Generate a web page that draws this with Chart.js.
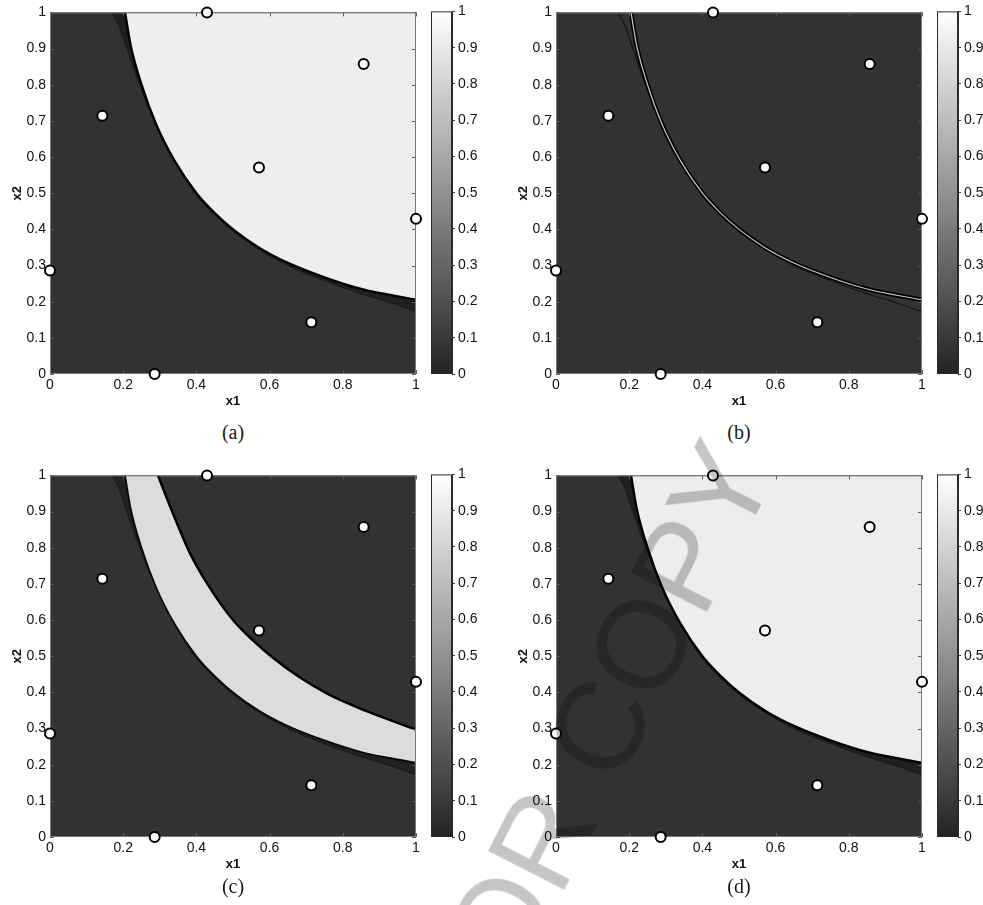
<!DOCTYPE html>
<html lang="en">
<head>
<meta charset="utf-8">
<title>Classification panels (a)-(d)</title>
<script src="https://cdn.jsdelivr.net/npm/chart.js@4.4.1/dist/chart.umd.min.js"></script>
<style>
  html, body { margin: 0; padding: 0; background: #fff; overflow: hidden; }
  body { width: 983px; height: 905px; position: relative; }
  canvas { position: absolute; }
  .cap { position: absolute; transform: translate(-50%, -50%); font-family: "Liberation Serif", "Times New Roman", serif; font-size: 20px; color: #1a1a1a; }
  #wm { position: absolute; left: 658px; top: 610px; width: 0; height: 0; transform: rotate(-63deg);
        mix-blend-mode: multiply; color: #c6c6c6; font-family: "Liberation Sans", Arial, sans-serif;
        font-size: 125px; line-height: 1; pointer-events: none; }
  #wm span { position: absolute; top: 0; white-space: nowrap; }
</style>
</head>
<body>
  <canvas id="plotA" width="425" height="420" style="left:0px;top:0px"></canvas>
  <canvas id="barA" width="48" height="390" style="left:431px;top:0px"></canvas>
  <canvas id="plotB" width="425" height="420" style="left:506px;top:0px"></canvas>
  <canvas id="barB" width="48" height="390" style="left:937px;top:0px"></canvas>
  <canvas id="plotC" width="425" height="420" style="left:0px;top:463px"></canvas>
  <canvas id="barC" width="48" height="390" style="left:431px;top:463px"></canvas>
  <canvas id="plotD" width="425" height="420" style="left:506px;top:463px"></canvas>
  <canvas id="barD" width="48" height="390" style="left:937px;top:463px"></canvas>

  <div class="cap" style="left:233px;top:432px">(a)</div>
  <div class="cap" style="left:739px;top:432px">(b)</div>
  <div class="cap" style="left:233px;top:886px">(c)</div>
  <div class="cap" style="left:739px;top:886px">(d)</div>

  <div id="wm">
    <span style="left:0;transform:translate(-50%,-50%)">COPY</span>
    <span style="right:177px;transform:translateY(-50%)">AUTHOR&nbsp;</span>
  </div>

<script>
// axis ticks
const xTicks = [0, 0.2, 0.4, 0.6, 0.8, 1];
const yTicks = [0, 0.1, 0.2, 0.3, 0.4, 0.5, 0.6, 0.7, 0.8, 0.9, 1];
const cbTicks = [0, 0.1, 0.2, 0.3, 0.4, 0.5, 0.6, 0.7, 0.8, 0.9, 1];
const cbLabel = [''];
const cbValue = [1];

// design sites (the circles), same in every panel
const siteX = [0, 0.143, 0.286, 0.429, 0.571, 0.714, 0.857, 1.0];
const siteY = [0.286, 0.714, 0, 1.0, 0.571, 0.143, 0.857, 0.429];

// edge of the light region (panels a, d), thin line in b, lower edge of band in c
const edgeX = [0.205, 0.22, 0.25, 0.29, 0.34, 0.40, 0.45, 0.50, 0.57, 0.65, 0.75, 0.85, 1.00];
const edgeY = [1.00, 0.91, 0.80, 0.69, 0.59, 0.50, 0.445, 0.40, 0.35, 0.307, 0.267, 0.235, 0.205];

// outermost of the bunched contour lines on the dark side
const fuzzX = [0.17, 0.19, 0.21, 0.245, 0.285, 0.335, 0.395, 0.45, 0.50, 0.57, 0.65, 0.75, 0.85, 0.93, 1.00];
const fuzzY = [1.00, 0.96, 0.90, 0.80, 0.70, 0.60, 0.50, 0.44, 0.395, 0.345, 0.30, 0.258, 0.222, 0.197, 0.172];

// upper edge of the band in panel c
const upperX = [0.295, 0.32, 0.35, 0.38, 0.43, 0.50, 0.55, 0.61, 0.68, 0.76, 0.86, 1.00];
const upperY = [1.00, 0.935, 0.86, 0.79, 0.70, 0.60, 0.548, 0.495, 0.443, 0.395, 0.35, 0.297];

const darkBg = '#323232';
const font = { family: "'Liberation Sans', Arial, sans-serif", size: 14 };
const titleFont = { family: "'Liberation Sans', Arial, sans-serif", size: 13, weight: 'bold' };
const fmt = v => String(Math.round(v * 10) / 10);

function pts(xs, ys) {
    return xs.map((x, i) => ({ x: x, y: ys[i] }));
}

function curve(xs, ys, color, width, extra) {
    return Object.assign({
        type: 'line', data: pts(xs, ys), borderColor: color, borderWidth: width,
        pointRadius: 0, cubicInterpolationMode: 'monotone', fill: false, clip: 0
    }, extra || {});
}

function sites() {
    return {
        type: 'scatter', isSites: true, data: pts(siteX, siteY),
        pointRadius: 5, pointBorderWidth: 2,
        pointBackgroundColor: '#ffffff', pointBorderColor: '#000000',
        clip: false
    };
}

// dark plot background, inward ticks and the box (drawn just under the circles)
const framePlugin = {
    id: 'frame',
    beforeDraw(chart) {
        const a = chart.chartArea, c = chart.ctx;
        c.save();
        c.fillStyle = darkBg;
        c.fillRect(a.left, a.top, a.right - a.left, a.bottom - a.top);
        c.restore();
    },
    beforeDatasetDraw(chart, args) {
        if (!chart.data.datasets[args.index].isSites) return;
        const a = chart.chartArea, c = chart.ctx;
        const sx = chart.scales.x, sy = chart.scales.y;
        c.save();
        c.strokeStyle = '#5a5a5a';
        c.lineWidth = 1;
        c.beginPath();
        sx.ticks.forEach(t => {
            const p = Math.round(sx.getPixelForValue(t.value)) + 0.5;
            c.moveTo(p, a.bottom); c.lineTo(p, a.bottom - 4);
            c.moveTo(p, a.top); c.lineTo(p, a.top + 4);
        });
        sy.ticks.forEach(t => {
            const p = Math.round(sy.getPixelForValue(t.value)) + 0.5;
            c.moveTo(a.left, p); c.lineTo(a.left + 4, p);
            c.moveTo(a.right, p); c.lineTo(a.right - 4, p);
        });
        c.stroke();
        c.strokeStyle = '#7a7a7a';
        c.strokeRect(a.left + 0.5, a.top + 0.5, a.right - a.left - 1, a.bottom - a.top - 1);
        c.restore();
    }
};

function plotOptions() {
    return {
        responsive: false, animation: false, devicePixelRatio: 1, events: [],
        layout: { padding: { left: 0, top: 10, right: 9, bottom: 6 } },
        plugins: { legend: { display: false }, tooltip: { enabled: false } },
        scales: {
            x: {
                type: 'linear', min: 0, max: 1,
                afterBuildTicks: s => { s.ticks = xTicks.map(v => ({ value: v })); },
                afterFit: s => { s.height = 40; },
                grid: { display: false, drawTicks: false },
                border: { display: false },
                ticks: { font: font, color: '#111', padding: 3, maxRotation: 0, autoSkip: false, callback: fmt },
                title: { display: true, text: 'x1', font: titleFont, color: '#111', padding: { top: 0, bottom: 5 } }
            },
            y: {
                type: 'linear', min: 0, max: 1,
                afterBuildTicks: s => { s.ticks = yTicks.map(v => ({ value: v })); },
                afterFit: s => { s.width = 50; },
                grid: { display: false, drawTicks: false },
                border: { display: false },
                ticks: { font: font, color: '#111', padding: 4, autoSkip: false, callback: fmt },
                title: { display: true, text: 'x2', font: titleFont, color: '#111', padding: { top: 10, bottom: 0 } }
            }
        }
    };
}

function makePlot(id, datasets) {
    return new Chart(document.getElementById(id), {
        type: 'scatter',
        data: { datasets: datasets },
        options: plotOptions(),
        plugins: [framePlugin]
    });
}

const cbFrame = {
    id: 'cbFrame',
    afterDatasetsDraw(chart) {
        const a = chart.chartArea, c = chart.ctx;
        c.save();
        c.strokeStyle = '#2a2a2a';
        c.lineWidth = 1;
        c.strokeRect(a.left + 0.5, a.top + 0.5, a.right - a.left - 1, a.bottom - a.top - 1);
        c.restore();
    }
};

function makeColorbar(id) {
    return new Chart(document.getElementById(id), {
        type: 'bar',
        data: {
            labels: cbLabel,
            datasets: [{
                data: cbValue,
                backgroundColor: (ctx) => {
                    const ca = ctx.chart.chartArea;
                    if (!ca) return '#888';
                    const g = ctx.chart.ctx.createLinearGradient(0, ca.bottom, 0, ca.top);
                    g.addColorStop(0, '#232323');
                    g.addColorStop(1, '#ffffff');
                    return g;
                },
                borderWidth: 0, barPercentage: 1, categoryPercentage: 1
            }]
        },
        options: {
            responsive: false, animation: false, devicePixelRatio: 1, events: [],
            layout: { padding: { left: 0, top: 10, right: 0, bottom: 16 } },
            plugins: { legend: { display: false }, tooltip: { enabled: false } },
            scales: {
                x: { display: false },
                y: {
                    position: 'right', min: 0, max: 1,
                    afterBuildTicks: s => { s.ticks = cbTicks.map(v => ({ value: v })); },
                    afterFit: s => { s.width = 27; },
                    grid: { drawOnChartArea: false, drawTicks: true, tickLength: 3, color: '#444' },
                    border: { display: true, color: '#2a2a2a' },
                    ticks: { font: font, color: '#111', padding: 3, autoSkip: false, callback: fmt }
                }
            }
        },
        plugins: [cbFrame]
    });
}

// (a) light region above the edge, dark wedge of bunched contours below it
makePlot('plotA', [
    sites(),
    curve(edgeX, edgeY, '#050505', 2.5, { fill: 'end', backgroundColor: '#eeeeee' }),
    curve(fuzzX, fuzzY, '#181818', 1, { fill: 'end', backgroundColor: '#202020' })
]);

// (b) thin bright line on the edge
makePlot('plotB', [
    sites(),
    curve(edgeX, edgeY, '#c8c8c8', 1.2),
    curve(edgeX, edgeY, '#000000', 4.5),
    curve(fuzzX, fuzzY, '#141414', 1.2)
]);

// (c) light band between the edge and the upper curve
makePlot('plotC', [
    sites(),
    curve(upperX, upperY, '#000000', 2.5, { fill: 'end', backgroundColor: darkBg }),
    curve(edgeX, edgeY, '#0a0a0a', 1.8, { fill: 'end', backgroundColor: '#dcdcdc' }),
    curve(fuzzX, fuzzY, '#181818', 1, { fill: 'end', backgroundColor: '#222222' })
]);

// (d) same layout as (a)
makePlot('plotD', [
    sites(),
    curve(edgeX, edgeY, '#050505', 2.5, { fill: 'end', backgroundColor: '#ededed' }),
    curve(fuzzX, fuzzY, '#181818', 1, { fill: 'end', backgroundColor: '#202020' })
]);

makeColorbar('barA');
makeColorbar('barB');
makeColorbar('barC');
makeColorbar('barD');
</script>
</body>
</html>
